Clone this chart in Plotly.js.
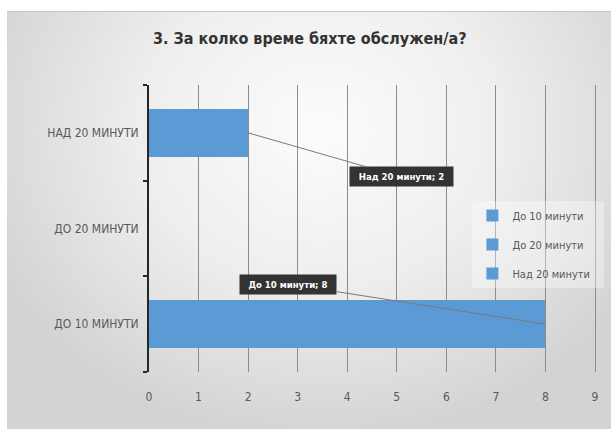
<!DOCTYPE html>
<html>
<head>
<meta charset="utf-8">
<script src="https://cdn.plot.ly/plotly-3.0.1.min.js"></script>
<style>
  html, body { margin:0; padding:0; background:#ffffff; }
  #wrap { position:relative; width:611px; height:430px; overflow:hidden; }
  #bg { position:absolute; left:7px; top:11px; width:604px; height:417px;
        background: radial-gradient(ellipse 60% 75% at 52% 28%, #fcfcfc 0%, #eeeeee 50%, #d3d3d3 100%);
        border-top:1px solid #c8c8c8; }
  #chart { position:absolute; left:0; top:0; width:611px; height:430px; }
  #chart text { font-stretch: condensed !important; }
</style>
</head>
<body>
<div id="wrap">
  <div id="bg"></div>
  <div id="chart"></div>
</div>
<script>
const categories = ["ДО 10 МИНУТИ", "ДО 20 МИНУТИ", "НАД 20 МИНУТИ"];
const seriesNames = ["До 10 минути", "До 20 минути", "Над 20 минути"];
const values = [8, 0, 2];
const xTicks = [0, 1, 2, 3, 4, 5, 6, 7, 8, 9];
const titleText = "3. За колко време бяхте обслужен/а?";

const FONT = "'DejaVu Sans', sans-serif";
const barColor = "#5b9bd5";

const traces = seriesNames.map((name, i) => ({
  type: "bar",
  orientation: "h",
  name: name,
  y: [categories[i]],
  x: [values[i]],
  marker: { color: barColor },
  legendgroup: "g" + i,
  hoverinfo: "none"
}));

const annotations = [];
// data labels with leader lines
const labelOffsets = { 0: { ax: -257, ay: -40 }, 2: { ax: 153, ay: 44 } };
values.forEach((v, i) => {
  const o = labelOffsets[i];
  if (v <= 0 || !o) return;
  annotations.push({
    x: v, y: categories[i], xref: "x", yref: "y",
    text: "<b>" + seriesNames[i] + "; " + v + "</b>",
    showarrow: true, arrowhead: 0, arrowwidth: 1, arrowcolor: "#7a7a7a",
    ax: o.ax, ay: o.ay,
    bgcolor: "#333333", borderpad: 4,
    font: { family: FONT, size: 9.5, color: "#ffffff" }
  });
});

// plot area spans to the right page edge; the last gridline (9) sits at x=595
const xMax = 9 * (611 - 149) / (595 - 149);

const layout = {
  width: 611, height: 430,
  margin: { l: 149, r: 0, t: 85, b: 58 },
  paper_bgcolor: "rgba(0,0,0,0)",
  plot_bgcolor: "rgba(0,0,0,0)",
  title: {
    text: titleText,
    x: 0.507, xanchor: "center",
    y: 1 - 38 / 430, yanchor: "middle",
    font: { family: FONT, size: 16, color: "#333333", weight: "bold" }
  },
  barmode: "stack",
  bargap: 0.5,
  showlegend: true,
  legend: {
    x: 0.70, xanchor: "left",
    y: (372 - 201) / 287, yanchor: "top",
    bgcolor: "rgba(255,255,255,0.35)",
    traceorder: "grouped",
    tracegroupgap: 10,
    font: { family: FONT, size: 11, color: "#595959" },
    itemwidth: 30
  },
  xaxis: {
    range: [0, xMax],
    tickvals: xTicks,
    ticktext: xTicks.map(String),
    showgrid: true, gridcolor: "#8c8c8c", gridwidth: 1,
    zeroline: false, showline: false,
    ticks: "", ticklabelstandoff: 16,
    tickfont: { family: FONT, size: 12, color: "#595959" },
    fixedrange: true
  },
  yaxis: {
    type: "category",
    categoryorder: "array", categoryarray: categories,
    showline: true, linecolor: "#262626", linewidth: 2,
    ticks: "outside", tickson: "boundaries", ticklen: 4, tickcolor: "#262626", tickwidth: 2,
    showgrid: false, zeroline: false,
    ticklabelstandoff: 6,
    tickfont: { family: FONT, size: 12, color: "#595959" },
    fixedrange: true
  },
  annotations: annotations
};

Plotly.newPlot("chart", traces, layout, { displayModeBar: false, staticPlot: true });
</script>
</body>
</html>
